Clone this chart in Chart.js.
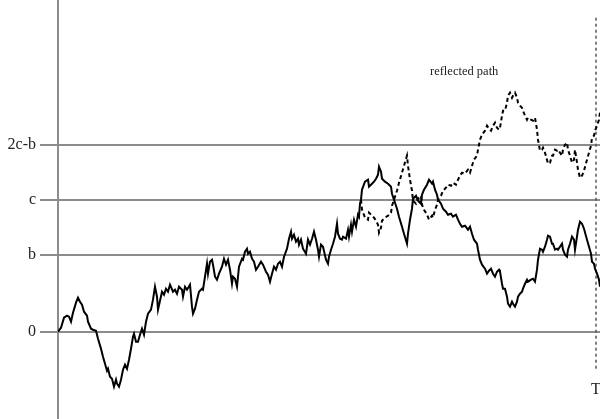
<!DOCTYPE html>
<html>
<head>
<meta charset="utf-8">
<script src="https://cdn.jsdelivr.net/npm/chart.js@4"></script>
<style>
  html, body { margin: 0; padding: 0; background: #fff; }
  #wrap { width: 600px; height: 419px; }
</style>
</head>
<body>
<div id="wrap"><canvas id="chartPath"></canvas></div>
<script>
// time axis (T = 538) and the Brownian path
const times = [
    0, 3, 6, 9, 11, 13, 15, 18, 20, 22,
    24, 26, 29, 30, 33, 35, 38, 40, 43, 45,
    47, 49, 50, 52, 54, 56, 58, 59, 61, 63,
    65, 67, 69, 71, 73, 75, 76, 78, 80, 82,
    84, 86, 88, 90, 93, 95, 97, 99, 100, 104,
    106, 108, 110, 112, 115, 117, 119, 121, 124, 125,
    127, 129, 132, 134, 135, 137, 139, 141, 144, 145,
    147, 149, 150, 152, 154, 155, 157, 159, 161, 164,
    166, 168, 170, 172, 174, 175, 177, 179, 181, 184,
    185, 187, 189, 190, 192, 194, 196, 198, 200, 203,
    205, 208, 210, 212, 214, 216, 218, 220, 222, 224,
    226, 229, 231, 233, 234, 236, 238, 240, 241, 243,
    245, 248, 250, 252, 254, 256, 258, 260, 261, 263,
    265, 268, 270, 271, 273, 275, 277, 279, 280, 282,
    284, 285, 288, 290, 291, 293, 294, 296, 298, 300,
    301, 302, 303, 304, 307, 310, 311, 314, 316, 318,
    320, 321, 323, 324, 327, 330, 333, 334, 336, 339,
    341, 344, 346, 349, 350, 352, 354, 355, 358, 360,
    363, 364, 366, 369, 371, 374, 375, 377, 379, 380,
    383, 385, 388, 390, 393, 395, 398, 400, 402, 404,
    407, 410, 412, 414, 416, 419, 420, 422, 424, 427,
    429, 431, 433, 435, 437, 439, 441, 442, 444, 445,
    447, 449, 450, 452, 454, 455, 457, 459, 460, 462,
    464, 465, 467, 469, 470, 473, 475, 477, 479, 480,
    482, 484, 485, 487, 489, 490, 492, 494, 495, 497,
    499, 500, 502, 504, 505, 507, 509, 510, 512, 514,
    516, 517, 519, 520, 522, 524, 526, 529, 531, 533,
    534, 536, 537, 539, 541, 542
];

const path = [
    0, 4, 14, 16, 15, 10, 19, 29, 34, 30,
    27, 20, 16, 10, 3, 2, 1, -7, -17, -25,
    -32, -39, -37, -45, -47, -55, -48, -52, -55, -48,
    -38, -33, -37, -28, -17, -5, -2, -10, -10, -3,
    3, -3, 10, 18, 22, 32, 45, 35, 22, 40,
    37, 43, 40, 47, 40, 42, 38, 45, 42, 35,
    45, 42, 47, 25, 18, 23, 32, 40, 43, 42,
    55, 68, 58, 70, 72, 67, 55, 52, 58, 65,
    73, 67, 72, 62, 48, 55, 53, 45, 65, 73,
    72, 80, 83, 78, 80, 73, 70, 62, 65, 70,
    67, 60, 57, 50, 58, 65, 62, 68, 70, 65,
    75, 83, 93, 100, 93, 97, 90, 93, 87, 92,
    83, 78, 92, 87, 93, 100, 92, 82, 75, 87,
    85, 72, 68, 75, 82, 88, 95, 108, 98, 93,
    92, 95, 93, 102, 95, 107, 100, 112, 105, 117,
    115, 128, 132, 142, 150, 152, 145, 148, 150, 153,
    157, 165, 160, 153, 150, 148, 145, 138, 132, 123,
    115, 105, 98, 88, 98, 112, 123, 133, 136, 131,
    128, 137, 142, 147, 152, 148, 150, 142, 137, 132,
    128, 123, 120, 117, 118, 115, 117, 112, 108, 105,
    106, 102, 105, 98, 92, 88, 82, 72, 67, 63,
    58, 61, 63, 58, 55, 60, 62, 60, 48, 43,
    43, 35, 28, 25, 30, 28, 25, 30, 35, 38,
    40, 43, 48, 52, 50, 52, 53, 50, 62, 72,
    83, 82, 80, 85, 92, 96, 95, 88, 88, 82,
    83, 82, 85, 88, 82, 77, 75, 82, 88, 95,
    92, 82, 95, 102, 110, 108, 103, 92, 85, 78,
    70, 68, 63, 58, 52, 45
];

// reflected path, starting where the path first hits c (t = 303)
const hitTime = 303;
const reflected = [
    132, 122, 114, 112, 119, 116, 114, 111,
    107, 99, 104, 111, 114, 116, 119, 126, 132, 141,
    149, 159, 166, 176, 166, 152, 141, 131, 128, 133,
    136, 127, 122, 117, 112, 116, 114, 122, 127, 132,
    136, 141, 144, 147, 146, 149, 147, 152, 156, 159,
    158, 162, 159, 166, 172, 176, 182, 192, 197, 201,
    206, 203, 201, 206, 209, 204, 202, 204, 216, 221,
    221, 229, 236, 239, 234, 236, 239, 234, 229, 226,
    224, 221, 216, 212, 214, 212, 211, 214, 202, 192,
    181, 182, 184, 179, 172, 168, 169, 176, 176, 182,
    181, 182, 179, 176, 182, 187, 189, 182, 176, 169,
    172, 182, 169, 162, 154, 156, 161, 172, 179, 186,
    194, 196, 201, 206, 212, 219
];

const levelValues = [0, 77, 132, 187];
const levelLabels = ["0", "b", "c", "2c-b"];
const T = 538;
const tLine = [314, -38];

const reflTimes = times.slice(times.indexOf(hitTime));

const labelsPlugin = {
    id: "labels",
    afterDraw(chart) {
        const { ctx, scales: { x, y } } = chart;
        ctx.save();
        ctx.fillStyle = "#222";
        ctx.font = '12.5px "Liberation Serif"';
        ctx.textAlign = "left";
        ctx.textBaseline = "middle";
        ctx.fillText("reflected path", x.getPixelForValue(372), y.getPixelForValue(260));
        ctx.font = '16px "Liberation Serif"';
        ctx.textAlign = "center";
        ctx.fillText("T", x.getPixelForValue(T), y.getPixelForValue(-58));
        ctx.restore();
    }
};

new Chart(document.getElementById("chartPath"), {
    type: "line",
    data: {
        datasets: [
            {
                label: "path",
                data: times.map((t, i) => ({ x: t, y: path[i] })),
                borderColor: "#000",
                borderWidth: 2,
                pointRadius: 0,
                tension: 0
            },
            {
                label: "reflected path",
                data: reflTimes.map((t, i) => ({ x: t, y: reflected[i] })),
                borderColor: "#000",
                borderWidth: 2,
                borderDash: [4, 3],
                pointRadius: 0,
                tension: 0
            },
            {
                label: "T",
                data: tLine.map(v => ({ x: T, y: v })),
                borderColor: "#555",
                borderWidth: 1.5,
                borderDash: [3, 3],
                pointRadius: 0
            }
        ]
    },
    options: {
        responsive: true,
        maintainAspectRatio: false,
        animation: false,
        layout: { padding: 0 },
        plugins: {
            legend: { display: false },
            tooltip: { enabled: false }
        },
        scales: {
            x: {
                type: "linear",
                display: false,
                min: 0,
                max: 542
            },
            y: {
                min: -87.3,
                max: 331.7,
                afterBuildTicks: scale => {
                    scale.ticks = levelValues.map(v => ({ value: v }));
                },
                afterFit: scale => {
                    scale.width = 58;
                    scale.paddingTop = 0;
                    scale.paddingBottom = 0;
                },
                ticks: {
                    padding: 4,
                    color: "#222",
                    font: { family: "Liberation Serif", size: 16 },
                    callback: v => levelLabels[levelValues.indexOf(v)]
                },
                grid: {
                    color: "#8c8c8c",
                    lineWidth: 2,
                    tickLength: 18
                },
                border: {
                    color: "#8c8c8c",
                    width: 2
                }
            }
        }
    },
    plugins: [labelsPlugin]
});
</script>
</body>
</html>
